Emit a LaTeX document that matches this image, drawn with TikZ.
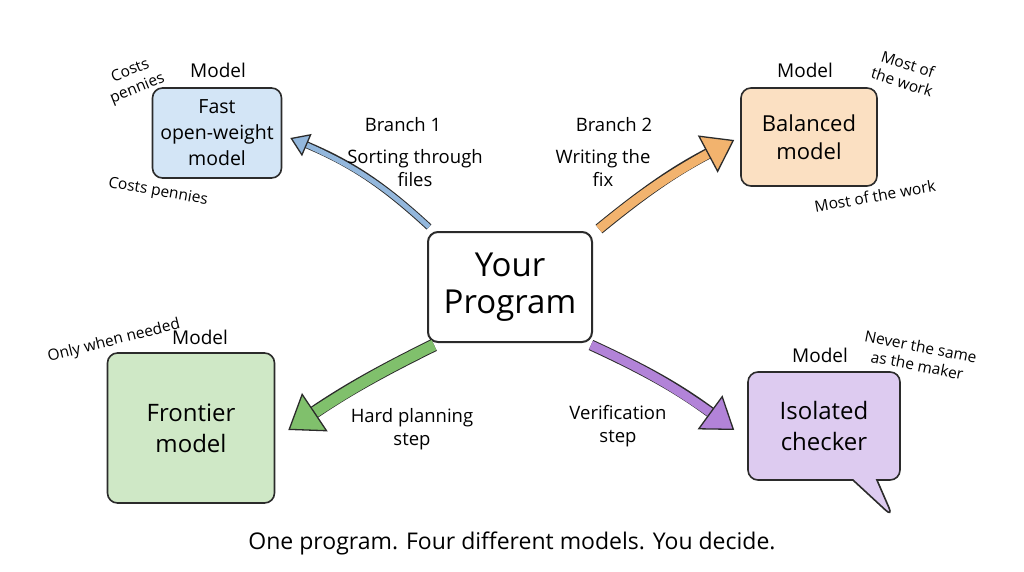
\documentclass[tikz,border=0pt]{standalone}
\usepackage{fontspec}
\setmainfont{Open Sans}
\usetikzlibrary{arrows.meta,shapes.callouts,bending}
\definecolor{ink}{HTML}{2B2B2B}
\definecolor{blueF}{HTML}{D3E5F6}
\definecolor{orangeF}{HTML}{FBE0C2}
\definecolor{greenF}{HTML}{CFE8C6}
\definecolor{purpleF}{HTML}{DDCBF0}
\definecolor{blueA}{HTML}{93B7DC}
\definecolor{orangeA}{HTML}{F2B36E}
\definecolor{greenA}{HTML}{80C06C}
\definecolor{purpleA}{HTML}{B283D8}
\tikzset{
  box/.style={draw=ink, line width=1.6pt, rounded corners=10pt, align=center, inner sep=2pt},
  modlbl/.style={font=\fontsize{19}{22}\selectfont, text=black},
  note/.style={font=\fontsize{15.5}{19}\selectfont, align=center, text=black, inner sep=1pt},
  brlbl/.style={font=\fontsize{18.5}{23}\selectfont, align=center, text=black},
  flow/.style n args={4}{line width=#2, draw=#1,
    preaction={draw=ink, line width=#2+2pt, shorten >=#3-2pt, arrows=-},
    -{Triangle[length=#3, width=#4, fill=#1, color=ink, line width=1.3pt]}},
}
\begin{document}
\begin{tikzpicture}[x=1pt,y=-1pt]
\useasboundingbox[fill=white] (0,0) rectangle (1024,572);

% center
\node[box, fill=white, line width=2pt, minimum width=164pt, minimum height=110pt,
  font=\fontsize{33}{37}\selectfont] (prog) at (510,287) {Your\\Program};

% model boxes
\node[box, fill=blueF, minimum width=129pt, minimum height=90pt,
  font=\fontsize{19.5}{26}\selectfont] (fast) at (217,133) {Fast\\open-weight\\model};
\node[box, fill=orangeF, minimum width=136pt, minimum height=98pt,
  font=\fontsize{22}{28}\selectfont] (bal) at (809,137) {Balanced\\model};
\node[box, fill=greenF, minimum width=167pt, minimum height=150pt,
  font=\fontsize{24}{31}\selectfont] (front) at (191,428) {Frontier\\model};
\node[draw=ink, line width=1.6pt, fill=purpleF, rectangle callout, rounded corners=10pt,
  align=center, minimum width=152pt, minimum height=108pt,
  callout absolute pointer={(893,517)}, callout pointer width=24pt,
  font=\fontsize{24}{31}\selectfont] (chk) at (824,426) {Isolated\\checker};

% "Model" labels
\node[modlbl] (m1) at (218,70) {Model};
\node[modlbl] (m2) at (805,70) {Model};
\node[modlbl] (m3) at (200,337) {Model};
\node[modlbl] (m4) at (820,355) {Model};

% notes
\node[note, rotate=22] (n1) at (134,80) {Costs\\pennies};
\node[note, rotate=-10] (n2) at (158,192) {Costs pennies};
\node[note, rotate=-18] (n3) at (905,73) {Most of\\the work};
\node[note, rotate=10] (n4) at (875,196) {Most of the work};
\node[note, rotate=14] (n5) at (114,341) {Only when needed};
\node[note, rotate=-11] (n6) at (919,356) {Never the same\\as the maker};

% arrows
\draw[flow={blueA}{5pt}{18pt}{24pt}] ([shift={(2,-4)}]prog.north west)
  to[bend right=10] ([shift={(8,5)}]fast.east);
\draw[flow={orangeA}{9pt}{30pt}{42pt}] ([shift={(6,-2)}]prog.north east)
  to[bend left=6] ([shift={(-6,3)}]bal.west);
\draw[flow={greenA}{11pt}{32pt}{46pt}] ([shift={(7,2)}]prog.south west)
  to[bend right=4] ([shift={(13,2)}]front.east);
\draw[flow={purpleA}{9pt}{30pt}{42pt}] ([shift={(-2,2)}]prog.south east)
  to[bend left=6] ([shift={(-13,4)}]chk.west);

% branch labels
\node[brlbl] (b1) at (403,125) {Branch 1};
\node[brlbl] (b1t) at (415,168) {Sorting through\\files};
\node[brlbl] (b2) at (614,125) {Branch 2};
\node[brlbl] (b2t) at (603,168) {Writing the\\fix};
\node[brlbl] (b3) at (412,429) {Hard planning\\step};
\node[brlbl] (b4) at (618,426) {Verification\\step};

% caption
\node[font=\fontsize{23}{27}\selectfont] (cap) at (512,543) {One program. Four different models. You decide.};
\end{tikzpicture}
\end{document}
